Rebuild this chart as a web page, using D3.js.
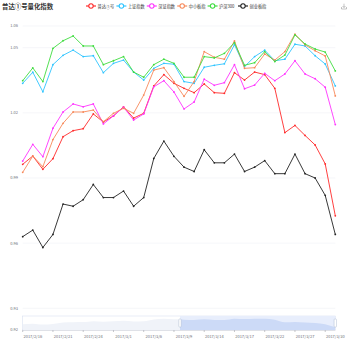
<!DOCTYPE html>
<html>
<head>
<meta charset="utf-8">
<script src="https://cdn.jsdelivr.net/npm/d3@7"></script>
<style>
  body { margin: 0; background: #fff; }
  text { font-family: "Noto Sans CJK SC", "Noto Sans", sans-serif; }
</style>
</head>
<body>
<div id="viz"></div>
<script>
const dates = ["2017/2/15","2017/2/16","2017/2/17","2017/2/20","2017/2/21","2017/2/22","2017/2/23","2017/2/24",
  "2017/2/27","2017/2/28","2017/3/1","2017/3/2","2017/3/3","2017/3/6","2017/3/7","2017/3/8","2017/3/9","2017/3/10",
  "2017/3/13","2017/3/14","2017/3/15","2017/3/16","2017/3/17","2017/3/20","2017/3/21","2017/3/22","2017/3/23",
  "2017/3/24","2017/3/27","2017/3/28","2017/3/29","2017/3/30"];

const seriesNames = ["普达①号", "上证指数", "深证指数", "中小板指", "沪深300", "创业板指"];

const pudaValues = [0.9963,1.0001,0.9940,0.9989,1.0090,1.0118,1.0127,1.0195,1.0158,1.0186,1.0228,1.0176,1.0198,1.0324,1.0376,1.0336,
  1.0313,1.0293,1.0333,1.0293,1.0290,1.0385,1.0351,1.0388,1.0376,1.0313,1.0109,1.0142,1.0096,1.0052,0.9965,0.9726];
const shangzhengValues = [1.0336,1.0387,1.0297,1.0422,1.0465,1.0489,1.0459,1.0463,1.0385,1.0428,1.0443,1.0388,1.0351,1.0405,1.0428,1.0424,
  1.0344,1.0336,1.0410,1.0419,1.0426,1.0514,1.0413,1.0459,1.0489,1.0440,1.0447,1.0516,1.0508,1.0463,1.0425,1.0324];
const shenzhengValues = [0.9978,1.0055,0.9998,1.0129,1.0204,1.0241,1.0228,1.0241,1.0149,1.0186,1.0226,1.0167,1.0195,1.0320,1.0348,1.0296,
  1.0218,1.0250,1.0355,1.0327,1.0339,1.0422,1.0311,1.0328,1.0382,1.0348,1.0379,1.0440,1.0379,1.0357,1.0318,1.0146];
const zhongxiaoValues = [0.9926,1.0001,0.9952,1.0077,1.0152,1.0204,1.0204,1.0213,1.0159,1.0198,1.0221,1.0198,1.0282,1.0397,1.0408,1.0344,
  1.0276,1.0344,1.0482,1.0456,1.0447,1.0531,1.0405,1.0408,1.0471,1.0443,1.0482,1.0563,1.0513,1.0486,1.0462,1.0278];
const hs300Values = [1.0348,1.0407,1.0344,1.0497,1.0532,1.0554,1.0508,1.0508,1.0422,1.0440,1.0459,1.0388,1.0364,1.0422,1.0447,1.0428,
  1.0364,1.0364,1.0459,1.0453,1.0474,1.0523,1.0419,1.0431,1.0482,1.0436,1.0466,1.0559,1.0517,1.0494,1.0480,1.0393];
const chuangyeValues = [0.963,0.966,0.958,0.964,0.978,0.977,0.980,0.987,0.981,0.981,0.984,0.977,0.981,0.999,1.007,1.000,
  0.995,0.993,1.003,0.997,0.997,1.001,0.993,0.995,0.998,0.992,0.992,1.001,0.992,0.990,0.982,0.964];

const yTicks = [0.93, 0.96, 0.99, 1.02, 1.05];
const yMin = 0.92;
const yMax = 1.06;

const allSeries = [pudaValues, shangzhengValues, shenzhengValues, zhongxiaoValues, hs300Values, chuangyeValues];
const colors = ["#ff2a2a", "#2ec4ff", "#ff33ff", "#f7895a", "#3fdc3f", "#222222"];

let w = 350;
let h = 350;
let gridLeft = 22.7;
let gridRight = 335.3;
let gridTop = 26;
let gridBottom = 330;

const svg = d3.select("#viz")
  .append("svg")
  .attr("width", w)
  .attr("height", h);

const xScale = d3.scalePoint()
  .domain(dates)
  .range([gridLeft, gridRight]);

const yScale = d3.scaleLinear()
  .domain([yMin, yMax])
  .range([gridBottom, gridTop]);

// title
svg.append("text")
  .attr("x", 2)
  .attr("y", 8.8)
  .attr("font-size", 6.4)
  .attr("font-weight", "bold")
  .attr("fill", "#333")
  .text("普达①号量化指数");

// legend
let legendGroup = svg.append("g")
seriesNames.forEach((name, i) => {
  let lx = 86 + i * 30.4;
  let g = legendGroup.append("g").attr("transform", `translate(${lx},6)`);
  g.append("line")
    .attr("x1", 0).attr("x2", 10)
    .attr("y1", 0).attr("y2", 0)
    .attr("stroke", colors[i])
    .attr("stroke-width", 1.2);
  g.append("circle")
    .attr("cx", 5).attr("cy", 0).attr("r", 2.2)
    .attr("fill", "#fff")
    .attr("stroke", colors[i])
    .attr("stroke-width", 1.1);
  g.append("text")
    .attr("x", 11.5).attr("y", 1.5)
    .attr("font-size", 4.2)
    .attr("fill", "#333")
    .text(name);
});

// download icon
let dl = svg.append("g")
  .attr("transform", "translate(344,6.5)")
  .attr("fill", "none")
  .attr("stroke", "#888")
  .attr("stroke-width", 0.5);
dl.append("path").attr("d", "M0,-2.8 V1 M-1.5,-0.5 L0,1 L1.5,-0.5");
dl.append("path").attr("d", "M-2.5,0.5 V2.5 H2.5 V0.5");

// grid lines + y labels
let axisGroup = svg.append("g")
let gridVals = [yMax].concat(yTicks);
gridVals.forEach(v => {
  axisGroup.append("line")
    .attr("x1", gridLeft)
    .attr("x2", gridRight)
    .attr("y1", yScale(v))
    .attr("y2", yScale(v))
    .attr("stroke", "#eef0f5")
    .attr("stroke-width", 0.6);
});
[yMin].concat(yTicks, [yMax]).forEach(v => {
  axisGroup.append("text")
    .attr("x", 18)
    .attr("y", yScale(v) + 1.4)
    .attr("text-anchor", "end")
    .attr("font-size", 4)
    .attr("fill", "#6e7079")
    .text(v.toFixed(2));
});

// x ticks + labels
dates.forEach((d, i) => {
  if (i % 3 == 0) {
    axisGroup.append("line")
      .attr("x1", xScale(d)).attr("x2", xScale(d))
      .attr("y1", gridBottom).attr("y2", gridBottom + 2)
      .attr("stroke", "#6e7079")
      .attr("stroke-width", 0.4);
  }
  if (i % 3 == 1) {
    axisGroup.append("text")
      .attr("x", xScale(d))
      .attr("y", gridBottom + 8)
      .attr("text-anchor", "middle")
      .attr("font-size", 4)
      .attr("fill", "#6e7079")
      .text(d);
  }
});
axisGroup.append("line")
  .attr("x1", gridLeft).attr("x2", gridRight)
  .attr("y1", gridBottom).attr("y2", gridBottom)
  .attr("stroke", "#6e7079")
  .attr("stroke-width", 0.4);

// data zoom slider
let sliderTop = 316;
let sliderBottom = 330;
let selStart = 180;
let sliderGroup = svg.append("g")
const shadowY = d3.scaleLinear()
  .domain([d3.min(pudaValues) - 0.02, d3.max(pudaValues) + 0.02])
  .range([sliderBottom, sliderTop]);
const shadowArea = d3.area()
  .x((d, i) => xScale(dates[i]))
  .y0(sliderBottom)
  .y1(d => shadowY(d))
  .curve(d3.curveMonotoneX);
sliderGroup.append("rect")
  .attr("x", gridLeft).attr("y", sliderTop)
  .attr("width", gridRight - gridLeft).attr("height", sliderBottom - sliderTop)
  .attr("fill", "#fff")
  .attr("stroke", "#d2dbee")
  .attr("stroke-width", 0.5);
sliderGroup.append("clipPath").attr("id", "leftClip")
  .append("rect").attr("x", gridLeft).attr("y", sliderTop)
  .attr("width", selStart - gridLeft).attr("height", sliderBottom - sliderTop);
sliderGroup.append("clipPath").attr("id", "rightClip")
  .append("rect").attr("x", selStart).attr("y", sliderTop)
  .attr("width", gridRight - selStart).attr("height", sliderBottom - sliderTop);
sliderGroup.append("path")
  .datum(pudaValues)
  .attr("d", shadowArea)
  .attr("clip-path", "url(#leftClip)")
  .attr("fill", "#f0f3f9");
sliderGroup.append("rect")
  .attr("x", selStart).attr("y", sliderTop)
  .attr("width", gridRight - selStart).attr("height", sliderBottom - sliderTop)
  .attr("fill", "#e8eefc");
sliderGroup.append("path")
  .datum(pudaValues)
  .attr("d", shadowArea)
  .attr("clip-path", "url(#rightClip)")
  .attr("fill", "#ccdaf7");
[selStart, gridRight].forEach(hx => {
  sliderGroup.append("rect")
    .attr("x", hx - 1.2).attr("y", sliderTop + 3)
    .attr("width", 2.4).attr("height", 8)
    .attr("rx", 0.8)
    .attr("fill", "#fff")
    .attr("stroke", "#a0aec8")
    .attr("stroke-width", 0.4);
});

// series lines
let lineGroup = svg.append("g")
const line = d3.line()
  .x((d, i) => xScale(dates[i]))
  .y(d => yScale(d));

allSeries.forEach((vals, k) => {
  lineGroup.append("path")
    .datum(vals)
    .attr("d", line)
    .attr("fill", "none")
    .attr("stroke", colors[k])
    .attr("stroke-width", 0.9);
  lineGroup.append("g")
    .selectAll("circle")
    .data(vals)
    .enter()
    .append("circle")
    .attr("cx", (d, i) => xScale(dates[i]))
    .attr("cy", d => yScale(d))
    .attr("r", 0.9)
    .attr("fill", colors[k]);
});
</script>
</body>
</html>
